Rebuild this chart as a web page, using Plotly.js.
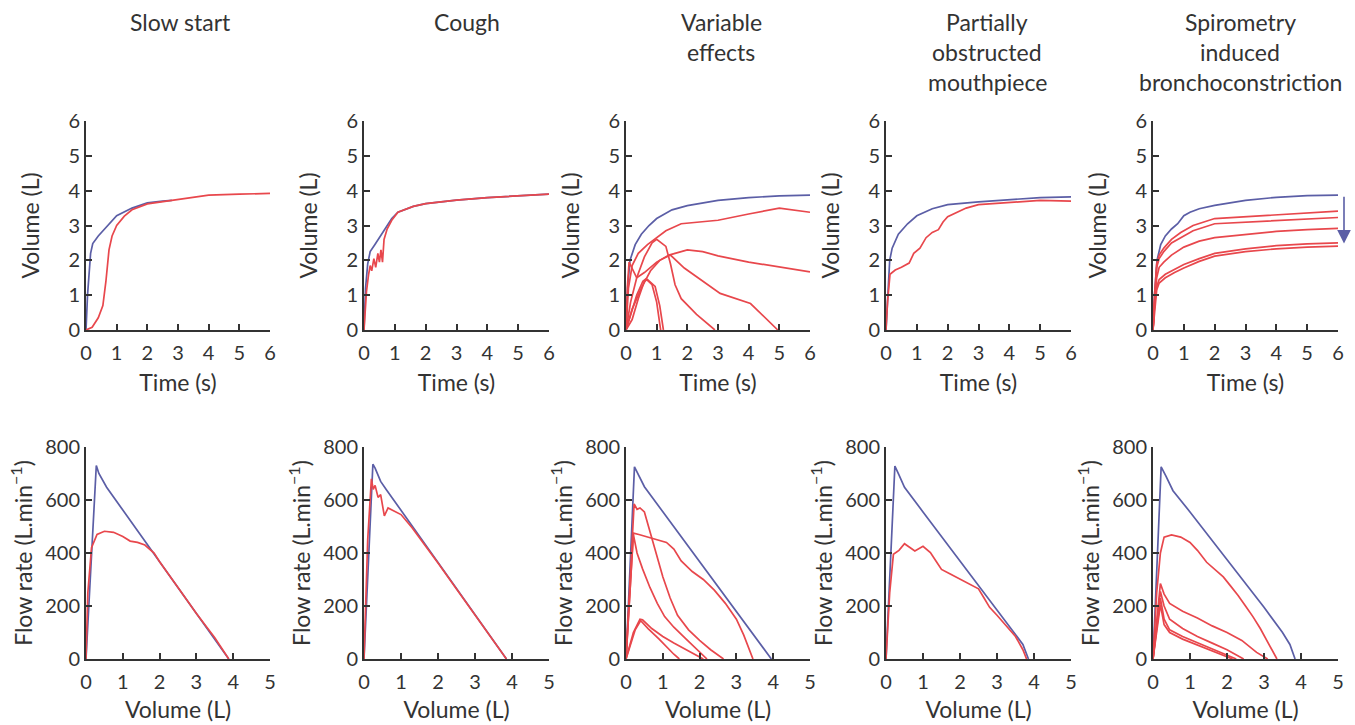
<!DOCTYPE html>
<html><head><meta charset="utf-8">
<script src="https://cdn.plot.ly/plotly-3.0.1.min.js"></script>
<style>html,body{margin:0;padding:0;background:#fff;}#chart{width:1355px;height:725px;}</style>
</head><body><div id="chart"></div>
<script>
// ---------- Data (pairs: [x, y]) ----------
const panelTitles = ["Slow start", "Cough", "Variable<br>effects", "Partially<br>obstructed<br>mouthpiece", "Spirometry<br>induced<br>bronchoconstriction"];
const timeTicks = [0, 1, 2, 3, 4, 5, 6];
const volTicks = [0, 1, 2, 3, 4, 5, 6];
const volumeXTicks = [0, 1, 2, 3, 4, 5];
const flowTicks = [0, 200, 400, 600, 800];

// Slow start
const slowVT_ref = [[0,0],[0.05,1.0],[0.15,2.2],[0.22,2.48],[0.4,2.7],[0.7,3.0],[1.0,3.28],[1.5,3.5],[2.0,3.65],[2.5,3.7],[2.8,3.72]];
const slowVT_test = [[0,0],[0.2,0.08],[0.4,0.35],[0.55,0.7],[0.65,1.4],[0.75,2.3],[0.85,2.7],[1.0,3.0],[1.25,3.27],[1.5,3.45],[2.0,3.62],[2.5,3.68],[3.0,3.74],[3.5,3.82],[4.0,3.87],[5.0,3.9],[6.0,3.92]];
const slowFV_ref = [[0,0],[0.28,730],[0.35,700],[0.56,648],[1.0,562],[1.5,465],[2.0,367],[2.5,270],[3.0,172],[3.5,74],[3.88,0]];
const slowFV_test = [[0,0],[0.05,250],[0.15,420],[0.3,470],[0.5,482],[0.75,478],[1.0,462],[1.2,445],[1.4,440],[1.6,430],[1.85,400],[2.0,367],[2.5,270],[3.0,172],[3.5,80],[3.88,0]];

// Cough
const coughVT_ref = [[0,0],[0.05,1.2],[0.12,1.9],[0.2,2.25],[0.35,2.45],[0.5,2.65],[0.7,2.95],[0.9,3.2],[1.1,3.38],[1.3,3.45],[1.6,3.55],[2.0,3.63],[3.0,3.73],[4.0,3.8],[5.0,3.85],[6.0,3.9]];
const coughVT_test = [[0,0],[0.08,1.1],[0.15,1.6],[0.2,1.85],[0.25,1.7],[0.32,2.05],[0.38,1.8],[0.45,2.2],[0.5,1.95],[0.55,2.3],[0.6,1.95],[0.65,2.6],[0.75,2.9],[0.9,3.15],[1.1,3.38],[1.3,3.45],[1.6,3.55],[2.0,3.63],[3.0,3.73],[4.0,3.8],[5.0,3.85],[6.0,3.9]];
const coughFV_ref = [[0,0],[0.24,735],[0.3,720],[0.45,670],[0.6,640],[1.0,561],[1.5,463],[2.0,364],[2.5,266],[3.0,167],[3.5,69],[3.85,0]];
const coughFV_test = [[0,0],[0.1,450],[0.2,680],[0.25,640],[0.3,655],[0.38,610],[0.45,620],[0.55,540],[0.65,570],[0.8,560],[1.0,545],[1.3,495],[1.5,458],[2.0,362],[2.5,264],[3.0,166],[3.5,68],[3.85,0]];

// Variable effects
const varVT_ref = [[0,0],[0.05,1.2],[0.13,2.0],[0.3,2.45],[0.5,2.75],[0.75,3.0],[1.0,3.2],[1.5,3.45],[2.0,3.57],[3.0,3.72],[4.0,3.8],[5.0,3.85],[6.0,3.87]];
const varVT_test1 = [[0,0],[0.08,1.2],[0.2,1.85],[0.4,2.2],[0.7,2.45],[0.95,2.62],[1.3,2.85],[1.8,3.05],[2.5,3.12],[3.0,3.15],[4.0,3.33],[5.0,3.5],[6.0,3.38]];
const varVT_test2 = [[0,0],[0.05,1.3],[0.1,1.95],[0.35,1.5],[0.6,1.65],[1.0,1.95],[1.4,2.15],[2.0,2.3],[2.5,2.25],[3.0,2.13],[4.0,1.95],[5.0,1.8],[6.0,1.67]];
const varVT_test3 = [[0,0],[0.15,0.8],[0.35,1.5],[0.6,2.1],[0.85,2.5],[1.0,2.6],[1.3,2.4],[1.45,1.9],[1.6,1.3],[1.8,0.9],[2.3,0.45],[2.9,0]];
const varVT_test4 = [[0,0],[0.2,0.6],[0.5,1.2],[0.8,1.7],[1.1,2.0],[1.45,2.15],[1.9,1.78],[2.5,1.4],[3.07,1.05],[4.06,0.76],[4.95,0]];
const varVT_test5 = [[0,0],[0.15,0.4],[0.35,1.0],[0.55,1.4],[0.65,1.47],[0.85,1.3],[1.0,0.8],[1.13,0]];
const varVT_test6 = [[0,0],[0.2,0.3],[0.4,0.9],[0.6,1.4],[0.7,1.45],[0.95,1.25],[1.1,0.7],[1.22,0]];
const varFV_ref = [[0,0],[0.23,725],[0.5,650],[1.0,556],[1.5,462],[2.0,368],[2.5,273],[3.0,179],[3.5,85],[3.95,0]];
const varFV_test1 = [[0,0],[0.22,585],[0.3,565],[0.38,570],[0.5,555],[0.65,480],[0.8,400],[1.0,310],[1.2,230],[1.4,165],[1.7,110],[2.0,70],[2.3,35],[2.65,0]];
const varFV_test2 = [[0,0],[0.2,475],[0.35,470],[0.6,460],[0.9,450],[1.1,440],[1.3,415],[1.5,370],[1.8,330],[2.1,300],[2.4,260],[2.7,210],[3.0,150],[3.2,90],[3.45,0]];
const varFV_test3 = [[0,0],[0.2,470],[0.3,400],[0.45,340],[0.65,270],[0.85,210],[1.05,160],[1.3,120],[1.6,80],[1.9,40],[2.2,0]];
const varFV_test4 = [[0,0],[0.2,100],[0.38,150],[0.45,148],[0.7,115],[1.0,85],[1.3,60],[1.6,38],[1.9,15],[2.1,0]];
const varFV_test5 = [[0,0],[0.25,110],[0.4,145],[0.6,115],[0.9,75],[1.1,45],[1.3,18],[1.45,0]];

// Partially obstructed mouthpiece
const obsVT_ref = [[0,0],[0.05,1.0],[0.12,2.0],[0.2,2.35],[0.4,2.75],[0.7,3.05],[1.0,3.28],[1.5,3.48],[2.0,3.6],[3.0,3.68],[4.0,3.75],[5.0,3.8],[6.0,3.82]];
const obsVT_test = [[0,0],[0.05,0.8],[0.13,1.6],[0.3,1.72],[0.5,1.8],[0.75,1.92],[0.9,2.2],[1.1,2.35],[1.3,2.65],[1.5,2.8],[1.7,2.88],[1.85,3.1],[2.0,3.25],[2.3,3.38],[2.6,3.5],[3.0,3.6],[4.0,3.67],[5.0,3.72],[6.0,3.7]];
const obsFV_ref = [[0,0],[0.24,728],[0.35,695],[0.5,648],[1.0,555],[1.5,463],[2.0,370],[2.5,278],[3.0,185],[3.5,92],[3.7,55],[3.85,0]];
const obsFV_test = [[0,0],[0.1,250],[0.2,395],[0.35,410],[0.5,435],[0.65,420],[0.78,408],[1.0,425],[1.2,402],[1.35,370],[1.5,338],[1.75,320],[2.0,302],[2.25,285],[2.5,265],[2.65,230],[2.8,195],[3.0,165],[3.25,125],[3.5,85],[3.7,35],[3.8,0]];

// Spirometry induced bronchoconstriction
const bronVT_ref = [[0,0],[0.05,1.0],[0.13,2.0],[0.25,2.45],[0.4,2.7],[0.6,2.9],[0.8,3.05],[1.0,3.28],[1.2,3.38],[1.5,3.48],[2.0,3.58],[3.0,3.72],[4.0,3.81],[5.0,3.86],[6.0,3.87]];
const bronVT_test1 = [[0,0],[0.05,1.0],[0.12,1.9],[0.2,2.15],[0.35,2.35],[0.6,2.6],[0.9,2.8],[1.3,3.0],[2.0,3.2],[3.0,3.25],[4.0,3.3],[5.0,3.36],[6.0,3.41]];
const bronVT_test2 = [[0,0],[0.05,0.9],[0.12,1.8],[0.2,2.05],[0.35,2.25],[0.6,2.5],[0.9,2.65],[1.3,2.85],[2.0,3.05],[3.0,3.1],[4.0,3.15],[5.0,3.2],[6.0,3.23]];
const bronVT_test3 = [[0,0],[0.05,0.8],[0.12,1.5],[0.2,1.8],[0.35,1.95],[0.6,2.15],[1.0,2.38],[1.5,2.55],[2.0,2.65],[3.0,2.75],[4.0,2.83],[5.0,2.88],[6.0,2.92]];
const bronVT_test4 = [[0,0],[0.05,0.7],[0.12,1.25],[0.2,1.45],[0.4,1.6],[0.7,1.75],[1.0,1.88],[1.5,2.05],[2.0,2.2],[3.0,2.33],[4.0,2.42],[5.0,2.47],[6.0,2.5]];
const bronVT_test5 = [[0,0],[0.05,0.6],[0.12,1.15],[0.2,1.35],[0.4,1.5],[0.7,1.65],[1.0,1.78],[1.5,1.97],[2.0,2.12],[3.0,2.25],[4.0,2.33],[5.0,2.38],[6.0,2.41]];
const bronFV_ref = [[0,0],[0.22,725],[0.35,690],[0.54,635],[1.0,555],[1.5,465],[2.0,375],[2.5,285],[3.0,195],[3.5,100],[3.7,55],[3.84,0]];
const bronFV_test1 = [[0,0],[0.1,250],[0.2,400],[0.3,460],[0.5,468],[0.75,460],[1.0,440],[1.2,410],[1.45,365],[1.7,335],[1.9,310],[2.1,275],[2.3,240],[2.5,200],[2.7,160],[2.9,115],[3.1,65],[3.35,0]];
const bronFV_test2 = [[0,0],[0.2,285],[0.3,245],[0.45,210],[0.8,180],[1.2,155],[1.6,125],[2.0,100],[2.4,70],[2.8,25],[3.1,0]];
const bronFV_test3 = [[0,0],[0.2,255],[0.3,200],[0.45,150],[0.8,115],[1.2,85],[1.6,60],[2.0,35],[2.45,0]];
const bronFV_test4 = [[0,0],[0.2,230],[0.3,150],[0.45,110],[0.8,85],[1.2,62],[1.6,40],[2.0,15],[2.25,0]];
const bronFV_test5 = [[0,0],[0.2,205],[0.3,130],[0.45,100],[0.8,75],[1.2,52],[1.6,30],[2.0,8],[2.15,0]];

// arrow marking the decline (volume-time, bronchoconstriction panel)
const arrowFromVol = 3.87, arrowToVol = 2.48;

// ---------- Layout helpers ----------
const W = 1355, H = 725;
const BLUE = '#5b5ea6', RED = '#e8474c', INK = '#333333';
const FONT = 'Lato, "Open Sans", sans-serif';
const colPx = [[86,270],[364,549],[626,810],[886,1071],[1153,1338]];
const rowPx = [[121,330],[447,659]];
const titleX = [180, 467, 721, 987, 1240];
const TITLE_SIZE = 23, TICK_SIZE = 20;

const panels = [
  {top:[slowVT_ref,[slowVT_test]], bot:[slowFV_ref,[slowFV_test]]},
  {top:[coughVT_ref,[coughVT_test]], bot:[coughFV_ref,[coughFV_test]]},
  {top:[varVT_ref,[varVT_test1,varVT_test2,varVT_test3,varVT_test4,varVT_test5,varVT_test6]], bot:[varFV_ref,[varFV_test1,varFV_test2,varFV_test3,varFV_test4,varFV_test5]]},
  {top:[obsVT_ref,[obsVT_test]], bot:[obsFV_ref,[obsFV_test]]},
  {top:[bronVT_ref,[bronVT_test1,bronVT_test2,bronVT_test3,bronVT_test4,bronVT_test5]], bot:[bronFV_ref,[bronFV_test1,bronFV_test2,bronFV_test3,bronFV_test4,bronFV_test5]]}
];

const traces = [];
const layout = {
  width: W, height: H, margin:{l:0,r:0,t:0,b:0},
  paper_bgcolor:'#fff', plot_bgcolor:'#fff', showlegend:false,
  font:{family:FONT, color:INK, size:TICK_SIZE},
  annotations: []
};

function axisBase(){
  return {showline:true, linecolor:INK, linewidth:2, ticks:'inside', ticklen:6, tickwidth:2, tickcolor:INK,
          showgrid:false, zeroline:false, fixedrange:true, tickfont:{family:FONT, size:TICK_SIZE, color:INK}};
}
function line(pts, color, xa, ya){
  traces.push({type:'scatter', mode:'lines', x:pts.map(p=>p[0]), y:pts.map(p=>p[1]),
    xaxis:xa, yaxis:ya, line:{color:color, width:1.7}, hoverinfo:'skip'});
}
const tfont = {size:TITLE_SIZE, family:FONT, color:INK};

let n = 0;
panels.forEach((p, c) => {
  [['top',0],['bot',1]].forEach(([key, r]) => {
    n += 1;
    const xa = 'x' + (n===1?'':n), ya = 'y' + (n===1?'':n);
    const xk = 'xaxis' + (n===1?'':n), yk = 'yaxis' + (n===1?'':n);
    const [x0,x1] = colPx[c], [y0,y1] = rowPx[r];
    const xaxis = Object.assign(axisBase(), {domain:[x0/W, x1/W], anchor:ya, ticklabelstandoff:4});
    const yaxis = Object.assign(axisBase(), {domain:[1-y1/H, 1-y0/H], anchor:xa});
    if (r === 0) {
      xaxis.range = [0,6]; xaxis.tickvals = timeTicks;
      xaxis.title = {text:'Time (s)', font:tfont, standoff:12};
      yaxis.range = [0,6]; yaxis.tickvals = volTicks;
      yaxis.title = {text:'Volume (L)', font:tfont, standoff:22};
    } else {
      xaxis.range = [0,5]; xaxis.tickvals = volumeXTicks;
      xaxis.title = {text:'Volume (L)', font:tfont, standoff:10};
      yaxis.range = [0,800]; yaxis.tickvals = flowTicks;
      yaxis.title = {text:'Flow rate (L.min<sup>−1</sup>)', font:tfont, standoff:6};
    }
    layout[xk] = xaxis; layout[yk] = yaxis;
    const [ref, tests] = p[key];
    line(ref, BLUE, xa, ya);
    tests.forEach(t => line(t, RED, xa, ya));
  });
  panelTitles[c].split('<br>').forEach((txt, i) => {
    layout.annotations.push({text:txt, xref:'paper', yref:'paper', x:titleX[c]/W, y:1-(22+30*i)/H,
      xanchor:'center', yanchor:'middle', showarrow:false, font:tfont});
  });
});

// downward arrow to the right of the bronchoconstriction volume-time panel
layout.annotations.push({x:1344/W, y:arrowToVol, xref:'paper', yref:'y9', axref:'pixel', ayref:'pixel',
  ax:0, ay:-(arrowFromVol-arrowToVol)*((rowPx[0][1]-rowPx[0][0])/6),
  text:'', showarrow:true, arrowhead:2, arrowsize:1.7, arrowwidth:1.6, arrowcolor:BLUE});

Plotly.newPlot('chart', traces, layout, {displayModeBar:false, staticPlot:true});
</script></body></html>
